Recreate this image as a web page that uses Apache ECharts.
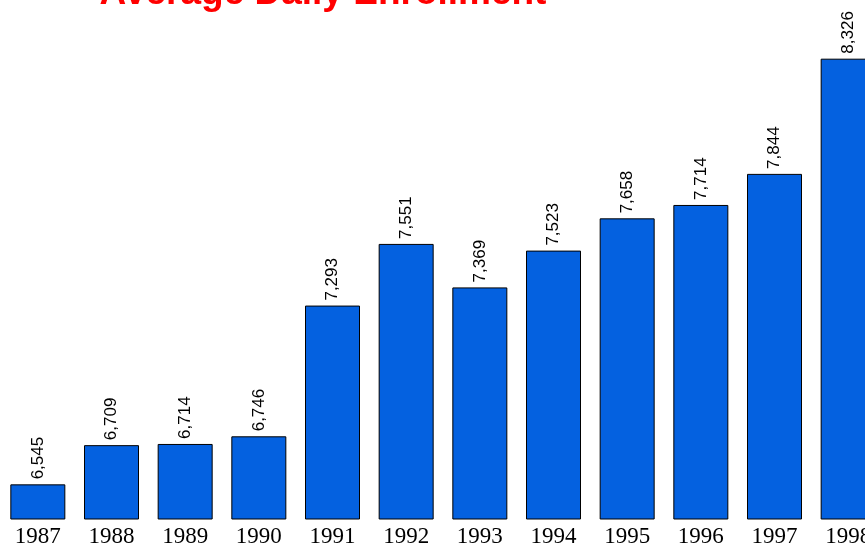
<!DOCTYPE html>
<html>
<head>
<meta charset="UTF-8">
<title>Average Daily Enrollment</title>
<script src="https://cdn.jsdelivr.net/npm/echarts@6/dist/echarts.min.js"></script>
<style>
  html, body { margin: 0; padding: 0; background: #fff; }
  #main { width: 865px; height: 550px; }
</style>
</head>
<body>
<div id="main"></div>
<script type="text/javascript">
  // data
  var years = ['1987', '1988', '1989', '1990', '1991', '1992', '1993', '1994', '1995', '1996', '1997', '1998'];
  var enrollment = [6545, 6709, 6714, 6746, 7293, 7551, 7369, 7523, 7658, 7714, 7844, 8326];

  var myChart = echarts.init(document.getElementById('main'));

  var option = {
    animation: false,
    title: {
      text: 'Average Daily Enrollment',
      left: 318,
      textAlign: 'center',
      top: -30,
      textStyle: {
        color: '#ff0000',
        fontFamily: 'Liberation Sans',
        fontWeight: 'bold',
        fontSize: 37
      }
    },
    // grid runs past the right edge so the last bar is clipped like the original
    grid: {
      left: 1,
      width: 884,
      top: 41,
      bottom: 31,
      containLabel: false,
      outerBoundsMode: 'none'
    },
    xAxis: {
      type: 'category',
      data: years,
      axisLine: { show: false },
      axisTick: { show: false },
      axisLabel: {
        interval: 0,
        margin: 6,
        color: '#000',
        fontFamily: 'Liberation Serif',
        fontSize: 23
      }
    },
    yAxis: {
      type: 'value',
      min: 6400,
      max: 8400,
      show: false,
      splitLine: { show: false }
    },
    series: [{
      type: 'bar',
      data: enrollment,
      barWidth: 55,
      itemStyle: {
        color: '#0461e0',
        borderColor: '#000',
        borderWidth: 1
      },
      label: {
        show: true,
        position: 'top',
        rotate: 90,
        align: 'left',
        verticalAlign: 'middle',
        distance: 5,
        color: '#000',
        fontFamily: 'Liberation Sans',
        fontSize: 17,
        formatter: function (p) {
          return p.value.toLocaleString('en-US');
        }
      }
    }]
  };

  myChart.setOption(option);
</script>
</body>
</html>
